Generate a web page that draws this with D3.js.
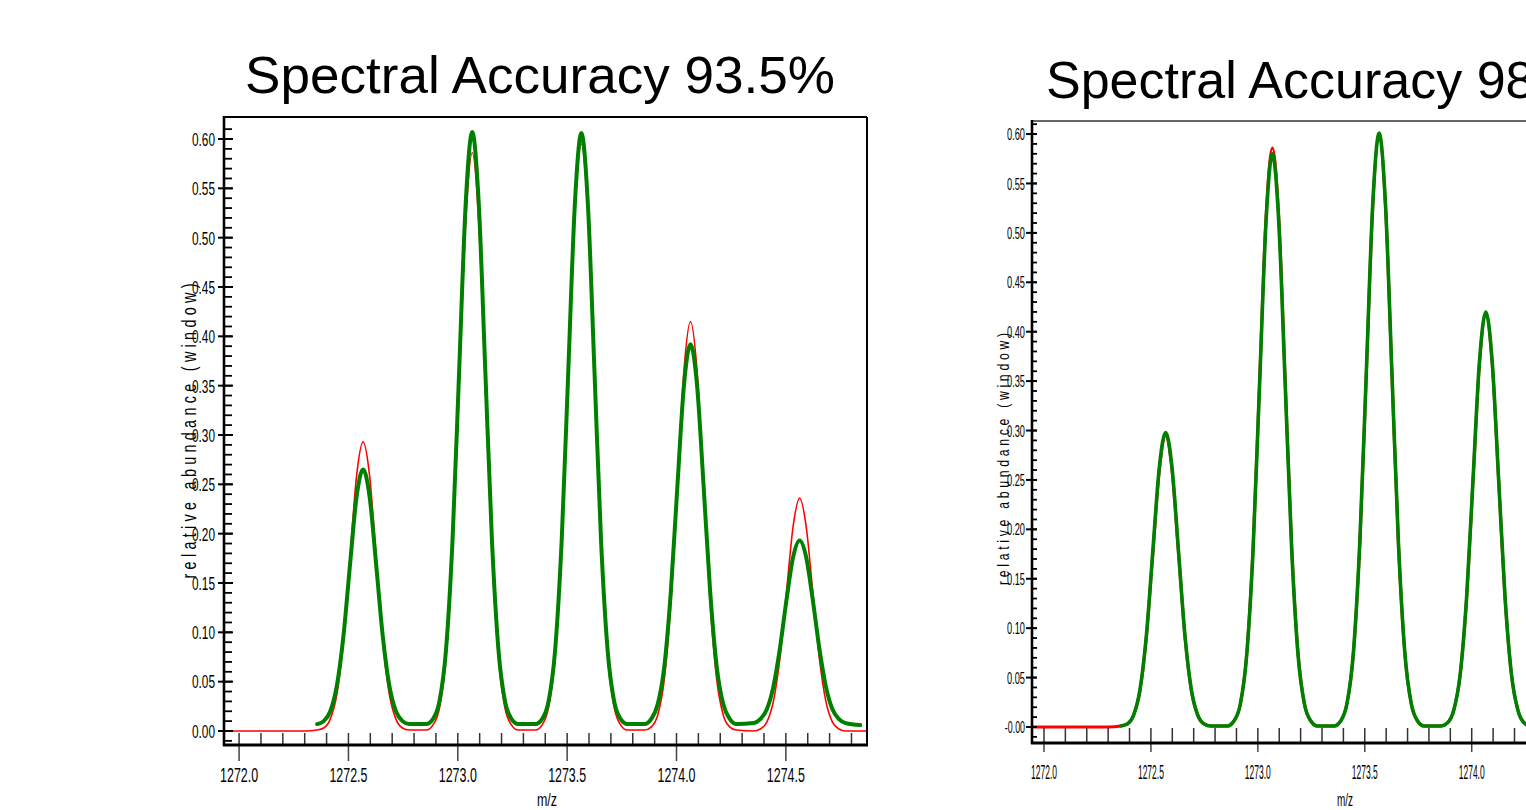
<!DOCTYPE html>
<html><head><meta charset="utf-8">
<script src="https://cdn.jsdelivr.net/npm/d3@7"></script>
<style>body{margin:0;background:#fff;overflow:hidden} svg{display:block;font-family:"Liberation Sans",Arial,sans-serif}</style>
</head><body><svg id="c" width="1526" height="810"></svg>
<script>
// ---------------- data ----------------
const titles = ["Spectral Accuracy 93.5%", "Spectral Accuracy 98.7%"];
const xAxisLabel = "m/z";
const yAxisLabel = "relative abundance (window)";
const yMajorTicks = [0.00,0.05,0.10,0.15,0.20,0.25,0.30,0.35,0.40,0.45,0.50,0.55,0.60];
const yTickLabelsLeft = ["0.00","0.05","0.10","0.15","0.20","0.25","0.30","0.35","0.40","0.45","0.50","0.55","0.60"];
const yTickLabelsRight = ["-0.00","0.05","0.10","0.15","0.20","0.25","0.30","0.35","0.40","0.45","0.50","0.55","0.60"];
const xMajorTicks = [1272.0,1272.5,1273.0,1273.5,1274.0,1274.5];
const xTickLabels = ["1272.0","1272.5","1273.0","1273.5","1274.0","1274.5"];

// left panel (93.5%)
const mzLeft = [1271.931,1272.300,
 1272.357,1272.387,1272.417,1272.447,1272.477,1272.507,1272.537,1272.567,1272.597,1272.627,1272.657,1272.687,1272.717,1272.747,1272.777,
 1272.856,1272.886,1272.916,1272.946,1272.976,1273.006,1273.036,1273.066,1273.096,1273.126,1273.156,1273.186,1273.216,1273.246,1273.276,
 1273.355,1273.385,1273.415,1273.445,1273.475,1273.505,1273.535,1273.565,1273.595,1273.625,1273.655,1273.685,1273.715,1273.745,1273.775,
 1273.854,1273.884,1273.914,1273.944,1273.974,1274.004,1274.034,1274.064,1274.094,1274.124,1274.154,1274.184,1274.214,1274.244,1274.274,
 1274.353,1274.383,1274.413,1274.443,1274.473,1274.503,1274.533,1274.563,1274.593,1274.623,1274.653,1274.683,1274.713,1274.743,1274.773,
 1274.840,1274.871];
const redLeft = [0,0,
 0.001,0.003,0.012,0.037,0.091,0.175,0.258,0.293,0.258,0.175,0.091,0.037,0.012,0.003,0.001,
 0.001,0.006,0.023,0.074,0.183,0.349,0.515,0.586,0.515,0.349,0.183,0.074,0.023,0.006,0.001,
 0.001,0.006,0.024,0.075,0.186,0.355,0.523,0.595,0.523,0.355,0.186,0.075,0.024,0.006,0.001,
 0.001,0.004,0.016,0.052,0.129,0.247,0.365,0.415,0.365,0.247,0.129,0.052,0.016,0.004,0.001,
 0.000,0.002,0.009,0.030,0.074,0.141,0.207,0.236,0.207,0.141,0.074,0.030,0.009,0.002,0.000,
 0,0];
const greenLeft = [null,null,
 0.007,0.010,0.020,0.046,0.096,0.168,0.237,0.265,0.237,0.168,0.096,0.046,0.020,0.010,0.007,
 0.007,0.012,0.030,0.082,0.194,0.364,0.534,0.607,0.534,0.364,0.194,0.082,0.030,0.012,0.007,
 0.007,0.012,0.030,0.082,0.193,0.364,0.533,0.606,0.533,0.364,0.193,0.082,0.030,0.012,0.007,
 0.007,0.012,0.027,0.065,0.141,0.248,0.350,0.392,0.350,0.248,0.141,0.065,0.027,0.012,0.007,
 0.008,0.012,0.022,0.045,0.084,0.133,0.176,0.193,0.176,0.133,0.084,0.045,0.022,0.012,0.008,
 0.006,null];

// right panel (98.x%)
const mzRight = [1271.944,1272.300,
 1272.359,1272.389,1272.419,1272.449,1272.479,1272.509,1272.539,1272.569,1272.599,1272.629,1272.659,1272.689,1272.719,1272.749,1272.779,
 1272.858,1272.888,1272.918,1272.948,1272.978,1273.008,1273.038,1273.068,1273.098,1273.128,1273.158,1273.188,1273.218,1273.248,1273.278,
 1273.357,1273.387,1273.417,1273.447,1273.477,1273.507,1273.537,1273.567,1273.597,1273.627,1273.657,1273.687,1273.717,1273.747,1273.777,
 1273.856,1273.886,1273.916,1273.946,1273.976,1274.006,1274.036,1274.066,1274.096,1274.126,1274.156,1274.186,1274.216,1274.246,1274.276,
 1274.355,1274.385,1274.415,1274.445,1274.475,1274.505,1274.535,1274.565,1274.595,1274.625,1274.655,1274.685,1274.715,1274.745,1274.775,
 1274.871];
const redRight = [0,0,
 0.001,0.003,0.012,0.037,0.092,0.176,0.259,0.295,0.259,0.176,0.092,0.037,0.012,0.003,0.001,
 0.001,0.006,0.023,0.074,0.183,0.349,0.515,0.586,0.515,0.349,0.183,0.074,0.023,0.006,0.001,
 0.001,0.006,0.024,0.075,0.187,0.356,0.526,0.598,0.526,0.356,0.187,0.075,0.024,0.006,0.001,
 0.001,0.004,0.017,0.053,0.130,0.249,0.367,0.418,0.367,0.249,0.130,0.053,0.017,0.004,0.001,
 0.000,0.002,0.008,0.027,0.066,0.126,0.186,0.212,0.186,0.126,0.066,0.027,0.008,0.002,0.000,
 0];
const greenRight = [null,null,
 0.001,0.003,0.012,0.038,0.093,0.178,0.262,0.298,0.262,0.178,0.093,0.038,0.012,0.003,0.001,
 0.001,0.006,0.023,0.073,0.181,0.346,0.510,0.580,0.510,0.346,0.181,0.073,0.023,0.006,0.001,
 0.001,0.006,0.024,0.076,0.188,0.358,0.528,0.601,0.528,0.358,0.188,0.076,0.024,0.006,0.001,
 0.001,0.004,0.017,0.053,0.131,0.250,0.369,0.420,0.369,0.250,0.131,0.053,0.017,0.004,0.001,
 0.000,0.002,0.008,0.026,0.066,0.125,0.185,0.210,0.185,0.125,0.066,0.026,0.008,0.002,0.000,
 0];

// ---------------- layout ----------------
const W = 1526;
const panels = [
 {name:"L", title:titles[0], mz:mzLeft, red:redLeft, green:greenLeft, yLabels:yTickLabelsLeft,
  left:224, right:867, top:117, bottom:745, xDomain:[1271.931,1274.871], yDomain:[-0.0142,0.6223],
  titleX:245, titleY:93, titleLen:590, frameRight:true, topStroke:"#000", topW:2,
  yMaj:[218,233], yMin:8, yLabX:215, yLabLen:23, yLabFs:19,
  xMinUp:12, xMajDown:16, xLabY:782, xLabLen:38, xLabFs:21,
  mzX:547, mzY:806, mzLen:20,
  ylabX:196, ylabY:431, ylabLen:295, ylabFs:20,
  redW:1.6, greenW:4},
 {name:"R", title:titles[1], mz:mzRight, red:redRight, green:greenRight, yLabels:yTickLabelsRight,
  left:1032, right:1658, top:121, bottom:743, xDomain:[1271.944,1274.871], yDomain:[-0.0162,0.6132],
  titleX:1046, titleY:98, titleLen:null, frameRight:false, topStroke:"#333", topW:1.5,
  yMaj:[1026,1037], yMin:5, yLabX:1025, yLabLen:18, yLabFs:17,
  xMinUp:15, xMajDown:9, xLabY:779, xLabLen:26, xLabFs:21,
  mzX:1345, mzY:806, mzLen:16,
  ylabX:1009, ylabY:459, ylabLen:252, ylabFs:17,
  redW:3, greenW:3.6}
];

const svg = d3.select("#c");

panels.forEach(p => {
  const x = d3.scaleLinear().domain(p.xDomain).range([p.left, p.right]);
  const y = d3.scaleLinear().domain(p.yDomain).range([p.bottom, p.top]);
  const g = svg.append("g");

  // title
  const t = g.append("text").attr("x", p.titleX).attr("y", p.titleY)
    .attr("font-size", 52).attr("fill", "#000").text(p.title);
  if (p.titleLen) t.attr("textLength", p.titleLen).attr("lengthAdjust", "spacingAndGlyphs");

  // clip
  const cid = "clip" + p.name;
  svg.append("defs").append("clipPath").attr("id", cid).append("rect")
    .attr("x", p.left).attr("y", p.top).attr("width", p.right - p.left).attr("height", p.bottom - p.top);

  // curves
  const line = d3.line().defined(d => d[1] != null)
    .x(d => x(d[0])).y(d => y(d[1])).curve(d3.curveMonotoneX);
  const lg = g.append("g").attr("clip-path", `url(#${cid})`);
  lg.append("path").attr("d", line(d3.zip(p.mz, p.red)))
    .attr("fill", "none").attr("stroke", "#ff0000").attr("stroke-width", p.redW).attr("stroke-linejoin","round");
  lg.append("path").attr("d", line(d3.zip(p.mz, p.green)))
    .attr("fill", "none").attr("stroke", "#008000").attr("stroke-width", p.greenW).attr("stroke-linejoin","round").attr("stroke-linecap","round");

  // frame
  g.append("line").attr("x1", p.left).attr("x2", p.right).attr("y1", p.top).attr("y2", p.top)
    .attr("stroke", p.topStroke).attr("stroke-width", p.topW);
  if (p.frameRight) g.append("line").attr("x1", p.right).attr("x2", p.right).attr("y1", p.top).attr("y2", p.bottom)
    .attr("stroke", "#000").attr("stroke-width", 2);

  // y minor ticks
  const yMinor = d3.range(-1, 62).map(i => i / 100).filter(v => y(v) > p.top + 1 && y(v) < p.bottom - 1);
  g.selectAll(null).data(yMinor).join("line")
    .attr("x1", p.left).attr("x2", p.left + p.yMin).attr("y1", d => y(d)).attr("y2", d => y(d))
    .attr("stroke", "#000").attr("stroke-width", 1.8);
  // y major ticks
  g.selectAll(null).data(yMajorTicks).join("line")
    .attr("x1", p.yMaj[0]).attr("x2", p.yMaj[1]).attr("y1", d => y(d)).attr("y2", d => y(d))
    .attr("stroke", "#000").attr("stroke-width", 2);
  g.selectAll(null).data(yMajorTicks).join("text")
    .attr("x", p.yLabX).attr("y", d => y(d)).attr("dy", "0.36em")
    .attr("text-anchor", "end").attr("font-size", p.yLabFs).attr("fill", "#000")
    .attr("textLength", (d, i) => p.yLabels[i].length > 4 ? p.yLabLen * 1.12 : p.yLabLen)
    .attr("lengthAdjust", "spacingAndGlyphs")
    .text((d, i) => p.yLabels[i]);

  // x minor ticks
  const xMinor = d3.range(0, 29).map(i => 1272 + i / 10).filter(v => x(v) > p.left && x(v) < p.right);
  g.selectAll(null).data(xMinor).join("line")
    .attr("x1", d => x(d)).attr("x2", d => x(d)).attr("y1", p.bottom).attr("y2", p.bottom - p.xMinUp)
    .attr("stroke", "#333").attr("stroke-width", 1.5);
  g.selectAll(null).data(xMajorTicks).join("line")
    .attr("x1", d => x(d)).attr("x2", d => x(d)).attr("y1", p.bottom).attr("y2", p.bottom + p.xMajDown)
    .attr("stroke", "#444").attr("stroke-width", 1.5);
  const xLab = xMajorTicks.map((v, i) => [v, xTickLabels[i]]).filter(d => x(d[0]) + p.xLabLen / 2 < W);
  g.selectAll(null).data(xLab).join("text")
    .attr("x", d => x(d[0])).attr("y", p.xLabY).attr("text-anchor", "middle")
    .attr("font-size", p.xLabFs).attr("fill", "#000")
    .attr("textLength", p.xLabLen).attr("lengthAdjust", "spacingAndGlyphs")
    .text(d => d[1]);

  // axes lines
  g.append("line").attr("x1", p.left).attr("x2", p.left).attr("y1", p.top - 1).attr("y2", p.bottom + 1)
    .attr("stroke", "#000").attr("stroke-width", 2.6);
  g.append("line").attr("x1", p.left - 1).attr("x2", p.right + 1).attr("y1", p.bottom).attr("y2", p.bottom)
    .attr("stroke", "#000").attr("stroke-width", 2.8);

  // axis labels
  g.append("text").attr("x", p.mzX).attr("y", p.mzY).attr("text-anchor", "middle")
    .attr("font-size", 18).attr("fill", "#000")
    .attr("textLength", p.mzLen).attr("lengthAdjust", "spacingAndGlyphs").text(xAxisLabel);
  const sx = 0.72;
  g.append("text").attr("transform", `translate(${p.ylabX},${p.ylabY}) rotate(-90) scale(${sx},1)`)
    .attr("text-anchor", "middle").attr("font-size", p.ylabFs).attr("fill", "#000")
    .attr("textLength", p.ylabLen / sx).attr("lengthAdjust", "spacing").text(yAxisLabel);
});
</script>
</body></html>
